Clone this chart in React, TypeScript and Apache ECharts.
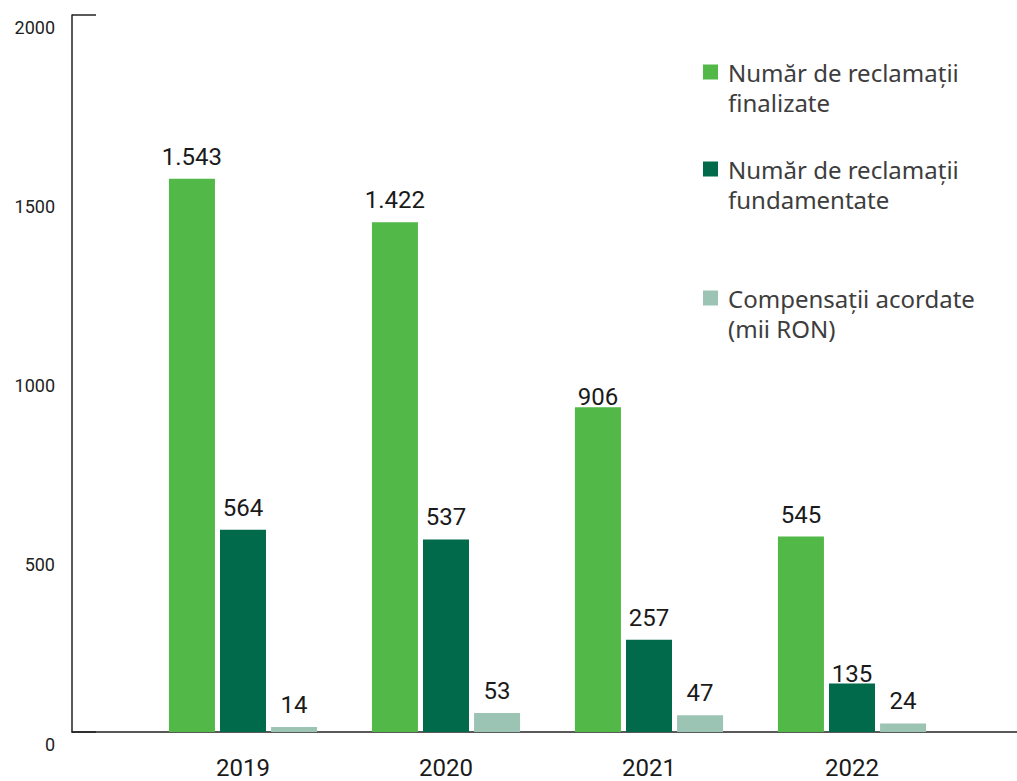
import React, { useEffect, useRef } from "react";
import * as echarts from "echarts";

const categories = ["2019", "2020", "2021", "2022"];
const finalizate = [1543, 1422, 906, 545];
const fundamentate = [564, 537, 257, 135];
const compensatii = [14, 53, 47, 24];
const yTickLabels = [0, 500, 1000, 1500, 2000];
const seriesNames = [
  "Număr de reclamații\nfinalizate",
  "Număr de reclamații\nfundamentate",
  "Compensații acordate\n(mii RON)",
];
const colors = ["#52B848", "#006A4B", "#9BC4B5"];

const fmt = (v: number) => String(v).replace(/\B(?=(\d{3})+(?!\d))/g, ".");

export default function App() {
  const ref = useRef<HTMLDivElement>(null);
  useEffect(() => {
    document.body.style.margin = "0";
    if (!ref.current) return;
    const chart = echarts.init(ref.current, null, { renderer: "svg" });
    const numFont = "Roboto, 'Noto Sans', sans-serif";
    const labelStyle = {
      show: true,
      position: "top" as const,
      distance: 10,
      fontSize: 24,
      fontFamily: numFont,
      color: "#1a1a1a",
      formatter: (p: any) => fmt(p.value),
    };
    const mk = (name: string, data: number[], color: string, tight: number[]) => ({
      name,
      type: "bar",
      xAxisIndex: 0,
      yAxisIndex: 0,
      barWidth: 46,
      barGap: "11%",
      itemStyle: { color },
      label: labelStyle,
      data: data.map((v, i) =>
        tight.includes(i) ? { value: v, label: { distance: -2 } } : v
      ),
    });
    const legends = seriesNames.map((n, i) => ({
      data: [n],
      left: 703,
      top: [27, 124, 253][i],
      padding: 0,
      orient: "vertical",
      itemWidth: 15,
      itemHeight: 15,
      icon: "rect",
      selectedMode: false,
      formatter: (name: string) => "\n" + name,
      textStyle: {
        fontSize: 24,
        lineHeight: 30,
        fontFamily: "'Noto Sans', sans-serif",
        color: "#3d3d3d",
        padding: [0, 0, 0, 5],
      },
    }));
    chart.setOption({
      animation: false,
      legend: legends,
      grid: [
        { left: 141.5, width: 812, top: 15, height: 717 },
        { left: 72, right: 0, top: 15, height: 717 },
      ],
      xAxis: [
        {
          type: "category",
          gridIndex: 0,
          data: categories,
          axisLine: { show: false },
          axisTick: { show: false },
          axisLabel: { fontSize: 24, fontFamily: numFont, color: "#1a1a1a", margin: 24 },
        },
        {
          type: "value",
          gridIndex: 1,
          min: 0,
          max: 1,
          axisLine: { show: true, lineStyle: { color: "#222", width: 1.5 } },
          axisTick: { show: false },
          axisLabel: { show: false },
          splitLine: { show: false },
        },
      ],
      yAxis: [
        { type: "value", gridIndex: 0, min: 0, max: 2000, interval: 500, show: false },
        {
          type: "value",
          gridIndex: 1,
          min: 0,
          max: 2000,
          interval: 500,
          axisLine: { show: true, lineStyle: { color: "#222", width: 1.5 } },
          axisTick: {
            show: true,
            inside: true,
            length: 24,
            customValues: [0, 2000],
            lineStyle: { color: "#222", width: 1.5 },
          },
          axisLabel: {
            customValues: yTickLabels,
            formatter: (v: number) => String(v),
            fontSize: 18,
            fontFamily: numFont,
            color: "#222",
            margin: 17,
            verticalAlign: "top",
            padding: [3, 0, 0, 0],
          },
          splitLine: { show: false },
        },
      ],
      series: [
        mk(seriesNames[0], finalizate, colors[0], [2]),
        mk(seriesNames[1], fundamentate, colors[1], [3]),
        mk(seriesNames[2], compensatii, colors[2], []),
      ],
    });
    return () => chart.dispose();
  }, []);
  return <div ref={ref} style={{ width: 1017, height: 781 }} />;
}
